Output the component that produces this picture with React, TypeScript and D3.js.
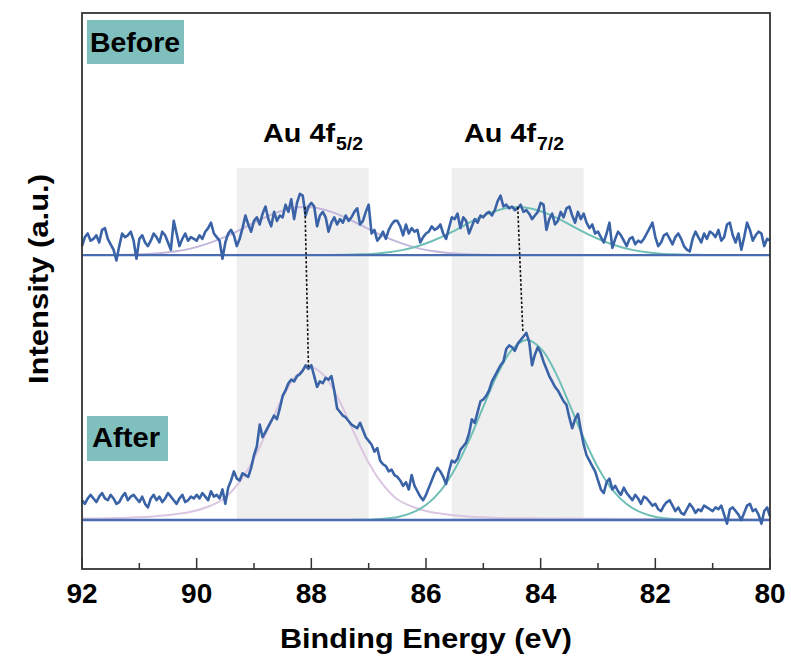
import React from "react";
import * as d3 from "d3";

// ---------- data (binding energy grid 92 -> 80 eV, 0.05 eV step) ----------
const EV_START = 92;
const EV_STEP = 0.05;

// "Before" spectrum, counts above its own baseline (a.u.)
const BEFORE_COUNTS = [
  5, 10, 12, 8, 9, 11, 7, 14, 15, 9,
  6, 3, -3, 5, 12, 10, 11, 13, 8, -2,
  9, 11, 7, 5, 8, 12, 10, 7, 13, 11,
  7, 3, 19, 12, 5, 9, 12, 8, 10, 9,
  8, 11, 9, 13, 15, 18, 12, 10, 8, -2,
  7, 12, 14, 11, 5, 9, 15, 22, 17, 13,
  19, 21, 17, 23, 27, 20, 16, 24, 19, 22,
  21, 28, 24, 31, 20, 29, 34, 33, 22, 27,
  29, 27, 16, 22, 24, 21, 13, 18, 21, 17,
  20, 18, 22, 19, 21, 24, 26, 17, 19, 24,
  28, 12, 14, 8, 10, 13, 9, 14, 17, 19,
  19, 16, 11, 17, 12, 15, 13, 14, 7, 10,
  12, 13, 16, 14, 15, 17, 12, 9, 15, 21,
  20, 23, 15, 21, 19, 12, 16, 20, 18, 22,
  21, 23, 24, 22, 25, 30, 33, 27, 28, 26,
  27, 25, 26, 28, 24, 25, 23, 20, 22, 24,
  29, 28, 14, 20, 23, 17, 19, 24, 21, 26,
  27, 22, 18, 24, 20, 23, 18, 15, 17, 12,
  13, 10, 7, 12, 18, 4, 9, 13, 11, 8,
  5, 9, 10, 6, 8, 7, 9, 12, 15, 18,
  10, 5, 7, 11, 12, 9, 6, 10, 12, 9,
  5, 3, 2, 9, 13, 10, 7, 12, 9, 13,
  12, 10, 14, 8, 10, 17, 18, 11, 7, 12,
  3, 10, 18, 14, 8, 11, 13, 12, 5, 9,
  8,
];

// "After" spectrum, counts above its baseline (a.u.)
const AFTER_COUNTS = [
  11, 9, 12, 14, 12, 10, 13, 15, 12, 11,
  14, 12, 9, 10, 13, 15, 11, 13, 14, 12,
  10, 13, 9, 7, 12, 14, 11, 13, 10, 12,
  15, 13, 11, 9, 12, 14, 10, 11, 13, 12,
  14, 12, 15, 13, 11, 16, 13, 14, 12, 17,
  9, 18, 22, 27, 23, 22, 26, 25, 24, 29,
  36, 41, 53, 46, 49, 52, 55, 58, 56, 62,
  69, 72, 76, 78, 77, 80, 81, 83, 86, 84,
  86, 80, 74, 77, 76, 79, 78, 80, 72, 62,
  60, 58, 57, 55, 53, 52, 51, 54, 50, 46,
  44, 42, 38, 40, 33, 31, 30, 27, 28, 25,
  24, 22, 19, 21, 17, 25, 19, 16, 13, 11,
  14, 18, 22, 26, 29, 27, 24, 20, 27, 33,
  32, 34, 39, 41, 43, 48, 56, 54, 60, 66,
  67, 69, 72, 77, 80, 83, 86, 88, 95, 97,
  96, 94, 98, 100, 102, 104, 99, 86, 92, 96,
  93, 88, 84, 80, 77, 74, 72, 69, 66, 64,
  57, 51, 56, 59, 50, 42, 36, 33, 30, 27,
  22, 17, 15, 21, 23, 17, 19, 16, 14, 18,
  15, 13, 11, 14, 12, 9, 13, 12, 10, 8,
  9, 6, 5, 8, 10, 11, 8, 5, 7, 4,
  3, 6, 9, 7, 4, 6, 5, 8, 7, 6,
  5, 7, 6, 8, 3, -2, 6, 7, 5, 3,
  0, 4, 8, 9, 5, 6, 3, -2, 5, 7,
  2,
];

const BEFORE_OFFSET = 147.2; // vertical stacking offset of the "Before" trace

// fitted components, sampled at offsets (eV) from each component centre
const FIT_OFFSETS = [
  -3.5, -3.25, -3, -2.75, -2.5, -2.25, -2, -1.75, -1.5, -1.25, -1, -0.75, -0.5, -0.25, 0,
  0.25, 0.5, 0.75, 1, 1.25, 1.5, 1.75, 2, 2.25, 2.5, 2.75, 3, 3.25, 3.5,
];
const FIT_BEFORE_52_CENTER = 88.11;
const FIT_BEFORE_52 = [0.1, 0.1, 0.3, 0.6, 1.2, 2.1, 3.6, 5.8, 8.7, 12.2, 16.2, 20.2, 23.6, 25.9, 26.7, 25.9, 23.6, 20.2, 16.2, 12.2, 8.7, 5.8, 3.6, 2.1, 1.2, 0.6, 0.3, 0.1, 0.1];
const FIT_BEFORE_72_CENTER = 84.4;
const FIT_BEFORE_72 = [0, 0.1, 0.2, 0.4, 0.8, 1.6, 2.9, 4.9, 7.7, 11.2, 15.3, 19.6, 23.2, 25.8, 26.7, 25.8, 23.2, 19.6, 15.3, 11.2, 7.7, 4.9, 2.9, 1.6, 0.8, 0.4, 0.2, 0.1, 0];
const FIT_AFTER_52_CENTER = 88.02;
const FIT_AFTER_52 = [1.0, 1.2, 1.5, 2.0, 2.7, 3.7, 5.2, 7.8, 12.0, 20.5, 33.0, 49.6, 66.8, 80.0, 85, 80.0, 66.8, 49.6, 33.0, 20.5, 12.0, 7.8, 5.2, 3.7, 2.7, 2.0, 1.5, 1.2, 1.0];
const FIT_AFTER_52_ENDS = [0.8, 0.3]; // value at 92 eV and 80 eV
const FIT_AFTER_72_CENTER = 84.24;
const FIT_AFTER_72 = [0, 0, 0.1, 0.2, 0.7, 1.7, 4.1, 8.6, 16.5, 28.6, 44.9, 63.7, 81.9, 95.1, 100, 95.1, 81.9, 63.7, 44.9, 28.6, 16.5, 8.6, 4.1, 1.7, 0.7, 0.2, 0.1, 0, 0];

// shaded regions (eV) and peak-shift guide lines
const BANDS = [
  [89.3, 87.0],
  [85.55, 83.25],
];
const BAND_TOP = 195.5; // a.u. (top of grey band, in the stacked intensity scale)
const LINK_TOP_EV = [88.11, 84.4];
const LINK_BOTTOM_EV = [88.05, 84.31];
const LINK_BOTTOM_VAL = [85, 104];

const X_TICKS = [92, 91, 90, 89, 88, 87, 86, 85, 84, 83, 82, 81, 80];
const X_LABELS = [92, 90, 88, 86, 84, 82, 80];

// ---------- layout ----------
const W = 791;
const H = 661;
const L = 82, R = 770, T = 13, B = 569;

const x = d3.scaleLinear().domain([92, 80]).range([L, R]);
const y = d3.scaleLinear().domain([-27.2, 281.7]).range([B, T]);

const DATA_COLOR = "#3a63a7";
const BASE_COLOR = "#4a6db2";
const PURPLE_B = "#c3b7dc";
const PURPLE_A = "#dbc6e1";
const TEAL = "#6fbfb6";
const BOX = "#7fbfbe";
const FONT = "'Liberation Sans', Arial, Helvetica, sans-serif";

type Pt = [number, number];

const dataLine = d3
  .line<Pt>()
  .x((d) => x(d[0]))
  .y((d) => y(d[1]))
  .curve(d3.curveLinear);

const fitLine = d3
  .line<Pt>()
  .x((d) => x(d[0]))
  .y((d) => y(d[1]))
  .curve(d3.curveCatmullRom.alpha(0.5));

function series(counts: number[], offset: number): Pt[] {
  return counts.map((v, i) => [EV_START - i * EV_STEP, v + offset] as Pt);
}
function fit(center: number, vals: number[], offset: number): Pt[] {
  return FIT_OFFSETS.map((o, i) => [center + o, vals[i] + offset] as Pt);
}

export default function App() {
  const before = series(BEFORE_COUNTS, BEFORE_OFFSET);
  const after = series(AFTER_COUNTS, 0);
  const fB52 = fit(FIT_BEFORE_52_CENTER, FIT_BEFORE_52, BEFORE_OFFSET);
  const fB72 = fit(FIT_BEFORE_72_CENTER, FIT_BEFORE_72, BEFORE_OFFSET);
  const fA52core = fit(FIT_AFTER_52_CENTER, FIT_AFTER_52, 0);
  const fA52: Pt[] = [
    [80, FIT_AFTER_52_ENDS[1]],
    ...fA52core,
    [92, FIT_AFTER_52_ENDS[0]],
  ];
  const fA72 = fit(FIT_AFTER_72_CENTER, FIT_AFTER_72, 0);
  const peakTop = BEFORE_OFFSET + 26.7;

  return (
    <svg
      width={W}
      height={H}
      style={{ position: "absolute", left: 0, top: 0, background: "#fff" }}
      fontFamily={FONT}
    >
      <rect x={0} y={0} width={W} height={H} fill="#fff" />
      {/* shaded bands */}
      {BANDS.map(([a, b], i) => (
        <rect
          key={"band" + i}
          x={x(a)}
          y={y(BAND_TOP)}
          width={x(b) - x(a)}
          height={y(0) - y(BAND_TOP)}
          fill="#efefef"
        />
      ))}

      {/* fitted components */}
      <path d={fitLine(fB52) || ""} fill="none" stroke={PURPLE_B} strokeWidth={2} />
      <path d={fitLine(fB72) || ""} fill="none" stroke={TEAL} strokeWidth={2} />
      <path d={fitLine(fA52) || ""} fill="none" stroke={PURPLE_A} strokeWidth={2} />
      <path d={fitLine(fA72) || ""} fill="none" stroke={TEAL} strokeWidth={2} />

      {/* baselines */}
      {[BEFORE_OFFSET, 0].map((b, i) => (
        <line
          key={"base" + i}
          x1={x(92)}
          x2={x(80)}
          y1={y(b)}
          y2={y(b)}
          stroke={BASE_COLOR}
          strokeWidth={2.4}
        />
      ))}

      {/* raw spectra */}
      <path d={dataLine(before) || ""} fill="none" stroke={DATA_COLOR} strokeWidth={2.6} strokeLinejoin="round" />
      <path d={dataLine(after) || ""} fill="none" stroke={DATA_COLOR} strokeWidth={2.6} strokeLinejoin="round" />

      {/* peak shift guides */}
      {LINK_TOP_EV.map((e, i) => (
        <line
          key={"link" + i}
          x1={x(e)}
          y1={y(peakTop)}
          x2={x(LINK_BOTTOM_EV[i])}
          y2={y(LINK_BOTTOM_VAL[i])}
          stroke="#111"
          strokeWidth={1.6}
          strokeDasharray="2.5,2"
        />
      ))}

      {/* frame */}
      <rect x={L} y={T} width={R - L} height={B - T} fill="none" stroke="#333" strokeWidth={1.8} />

      {/* ticks */}
      {X_TICKS.map((t) => {
        const major = t % 2 === 0;
        return (
          <line
            key={"tick" + t}
            x1={x(t)}
            x2={x(t)}
            y1={B}
            y2={B - (major ? 11 : 6)}
            stroke="#333"
            strokeWidth={1.5}
          />
        );
      })}
      {X_LABELS.map((t) => (
        <text
          key={"lab" + t}
          x={x(t)}
          y={603}
          textAnchor="middle"
          fontSize={28}
          fontWeight="bold"
          fill="#000"
        >
          {t}
        </text>
      ))}

      {/* axis titles */}
      <text
        x={426}
        y={648}
        textAnchor="middle"
        fontSize={28}
        fontWeight="bold"
        textLength={292}
        lengthAdjust="spacingAndGlyphs"
      >
        Binding Energy (eV)
      </text>
      <text
        transform="translate(48,279) rotate(-90)"
        textAnchor="middle"
        fontSize={28}
        fontWeight="bold"
        textLength={210}
        lengthAdjust="spacingAndGlyphs"
      >
        Intensity (a.u.)
      </text>

      {/* sample labels */}
      <rect x={87} y={20} width={97} height={44} fill={BOX} />
      <text x={90} y={52} fontSize={28} fontWeight="bold" textLength={90} lengthAdjust="spacingAndGlyphs">
        Before
      </text>
      <rect x={87} y={416} width={81} height={45} fill={BOX} />
      <text x={92} y={447} fontSize={28} fontWeight="bold" textLength={68} lengthAdjust="spacingAndGlyphs">
        After
      </text>

      {/* peak labels */}
      <text x={263} y={142} fontSize={26} fontWeight="bold" textLength={72} lengthAdjust="spacingAndGlyphs">
        Au 4f
      </text>
      <text x={336} y={150} fontSize={19} fontWeight="bold" textLength={27} lengthAdjust="spacingAndGlyphs">
        5/2
      </text>
      <text x={464} y={142} fontSize={26} fontWeight="bold" textLength={72} lengthAdjust="spacingAndGlyphs">
        Au 4f
      </text>
      <text x={537} y={150} fontSize={19} fontWeight="bold" textLength={27} lengthAdjust="spacingAndGlyphs">
        7/2
      </text>
    </svg>
  );
}
